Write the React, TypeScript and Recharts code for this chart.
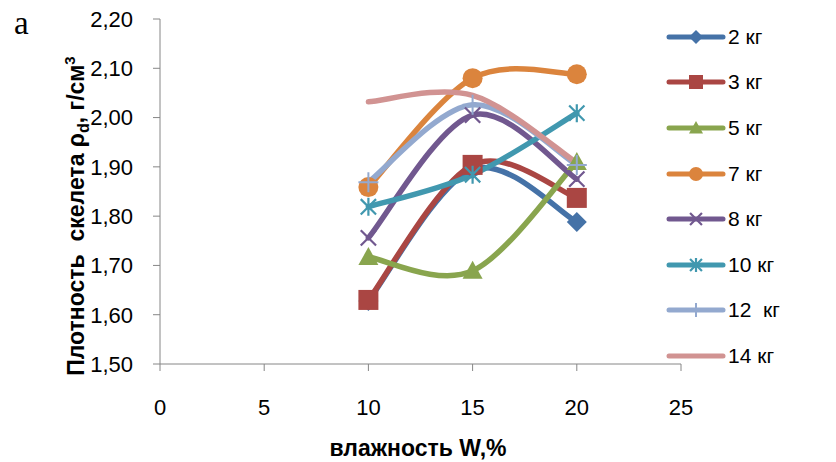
import React from 'react';
import { LineChart, Line, XAxis, YAxis } from 'recharts';

const moisture = [10, 15, 20];
const s2 = [1.628, 1.895, 1.788];
const s3 = [1.63, 1.904, 1.837];
const s5 = [1.717, 1.689, 1.91];
const s7 = [1.859, 2.08, 2.088];
const s8 = [1.756, 2.005, 1.875];
const s10 = [1.819, 1.884, 2.009];
const s12 = [1.869, 2.026, 1.904];
const s14 = [2.032, 2.045, 1.908];
const xTicks = [0, 5, 10, 15, 20, 25];
const yTicks = [1.5, 1.6, 1.7, 1.8, 1.9, 2.0, 2.1, 2.2];

const seriesNames = ['2 кг', '3 кг', '5 кг', '7 кг', '8 кг', '10 кг', '12  кг', '14 кг'];
const seriesValues = [s2, s3, s5, s7, s8, s10, s12, s14];
const seriesColors = ['#4572A7', '#AA4643', '#89A54E', '#DB843D', '#71588F', '#4198AF', '#93A9CF', '#D19392'];
const seriesMarkers = ['diamond', 'square', 'triangle', 'circle', 'x', 'star', 'plus', 'none'];

const data = moisture.map((w, i) => {
  const row: any = { w };
  seriesValues.forEach((vals, k) => {
    row['s' + k] = vals[i];
  });
  return row;
});

// Excel-like smoothing (Catmull-Rom via cubic Bezier)
const excelCurve: any = (context: any) => {
  let pts: number[][] = [];
  return {
    areaStart() {},
    areaEnd() {},
    lineStart() {
      pts = [];
    },
    point(x: number, y: number) {
      pts.push([+x, +y]);
    },
    lineEnd() {
      const n = pts.length;
      if (!n) return;
      context.moveTo(pts[0][0], pts[0][1]);
      for (let i = 0; i < n - 1; i++) {
        const p0 = pts[Math.max(i - 1, 0)];
        const p1 = pts[i];
        const p2 = pts[i + 1];
        const p3 = pts[Math.min(i + 2, n - 1)];
        const c1x = p1[0] + (p2[0] - p0[0]) / 6;
        const c1y = p1[1] + (p2[1] - p0[1]) / 6;
        const c2x = p2[0] - (p3[0] - p1[0]) / 6;
        const c2y = p2[1] - (p3[1] - p1[1]) / 6;
        context.bezierCurveTo(c1x, c1y, c2x, c2y, p2[0], p2[1]);
      }
    },
  };
};

function Marker({ type, cx, cy, color, s }: any) {
  if (cx == null || cy == null) return null;
  const h = s / 2;
  switch (type) {
    case 'diamond':
      return <polygon points={`${cx},${cy - h} ${cx + h},${cy} ${cx},${cy + h} ${cx - h},${cy}`} fill={color} />;
    case 'square':
      return <rect x={cx - h} y={cy - h} width={s} height={s} fill={color} />;
    case 'triangle':
      return <polygon points={`${cx},${cy - h} ${cx + h},${cy + h * 0.8} ${cx - h},${cy + h * 0.8}`} fill={color} />;
    case 'circle':
      return <circle cx={cx} cy={cy} r={h} fill={color} />;
    case 'x': {
      const d = h * 0.85;
      return (
        <path d={`M${cx - d},${cy - d}L${cx + d},${cy + d}M${cx - d},${cy + d}L${cx + d},${cy - d}`} stroke={color} strokeWidth={2.2} fill="none" />
      );
    }
    case 'star': {
      const d = h * 0.85;
      return (
        <path d={`M${cx - d},${cy - d}L${cx + d},${cy + d}M${cx - d},${cy + d}L${cx + d},${cy - d}M${cx},${cy - h}L${cx},${cy + h}`} stroke={color} strokeWidth={2.2} fill="none" />
      );
    }
    case 'plus':
      return (
        <path d={`M${cx - h},${cy}L${cx + h},${cy}M${cx},${cy - h}L${cx},${cy + h}`} stroke={color} strokeWidth={2} fill="none" />
      );
    default:
      return null;
  }
}

const FONT = 'Liberation Sans, Arial, sans-serif';

function LegendBox() {
  return (
    <div style={{ position: 'absolute', left: 666, top: 14, fontFamily: FONT, fontSize: 21, color: '#000' }}>
      {seriesNames.map((name, k) => (
        <div key={name} style={{ height: 45.6, display: 'flex', alignItems: 'center', whiteSpace: 'pre' }}>
          <svg width={60} height={24} style={{ display: 'block' }}>
            <line x1={3} y1={12} x2={57} y2={12} stroke={seriesColors[k]} strokeWidth={5} strokeLinecap="round" />
            <Marker type={seriesMarkers[k]} cx={30} cy={12} color={seriesColors[k]} s={14} />
          </svg>
          <span style={{ marginLeft: 2 }}>{name}</span>
        </div>
      ))}
    </div>
  );
}

export default function App() {
  return (
    <div style={{ position: 'fixed', left: 0, top: 0, width: 836, height: 462, background: '#fff' }}>
      <svg width={60} height={50} style={{ position: 'absolute', left: 0, top: 0 }}>
        <text x={14} y={34} fontFamily="Liberation Serif, Times New Roman, serif" fontSize={33} fill="#000">а</text>
      </svg>
      <LineChart width={836} height={462} data={data} margin={{ top: 19, right: 155, bottom: 0, left: 0 }}>
        <XAxis
          dataKey="w"
          type="number"
          domain={[0, 25]}
          ticks={xTicks}
          interval={0}
          tickSize={7}
          tickMargin={28}
          stroke="#868686"
          tick={{ fill: '#000', fontSize: 22, fontFamily: FONT }}
          height={98}
          label={{
            content: () => (
              <text x={418} y={456} textAnchor="middle" fontFamily={FONT} fontWeight="bold" fontSize={23} fill="#000">
                влажность W,%
              </text>
            ),
          }}
        />
        <YAxis
          type="number"
          domain={[1.5, 2.2]}
          ticks={yTicks}
          interval={0}
          width={160}
          tickSize={7}
          tickMargin={20}
          stroke="#868686"
          tickFormatter={(v: number) => v.toFixed(2).replace('.', ',')}
          tick={{ fill: '#000', fontSize: 22, fontFamily: FONT }}
          label={{
            content: () => (
              <text
                x={0}
                y={0}
                transform="translate(84,216) rotate(-90)"
                textAnchor="middle"
                fontFamily={FONT}
                fontWeight="bold"
                fontSize={23}
                fill="#000"
                style={{ whiteSpace: 'pre' }}
              >
                {'Плотность  скелета ρ'}
                <tspan fontSize={16} dy={5}>d</tspan>
                <tspan dy={-5}>, г/см</tspan>
                <tspan fontSize={15} dy={-9}>3</tspan>
              </text>
            ),
          }}
        />
        {seriesNames.map((name, k) => (
          <Line
            key={name}
            name={name}
            dataKey={'s' + k}
            type={excelCurve}
            stroke={seriesColors[k]}
            strokeWidth={5.5}
            strokeLinecap="round"
            isAnimationActive={false}
            activeDot={false}
            dot={(p: any) => (
              <Marker key={name + '-' + p.index} type={seriesMarkers[k]} cx={p.cx} cy={p.cy} color={seriesColors[k]} s={k === 4 || k === 5 ? 18 : 20} />
            )}
          />
        ))}
      </LineChart>
      <LegendBox />
    </div>
  );
}
